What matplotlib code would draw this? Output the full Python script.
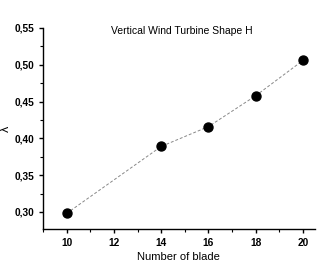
import matplotlib
matplotlib.use("Agg")
import matplotlib.pyplot as plt
from matplotlib.ticker import MultipleLocator, FuncFormatter

blades = [10, 14, 16, 18, 20]
lam = [0.298, 0.389, 0.416, 0.458, 0.506]
title = "Vertical Wind Turbine Shape H"
xlabel = "Number of blade"
ylabel = "λ"

plt.rcParams['font.family'] = ['Liberation Sans', 'DejaVu Sans']
fig = plt.figure(figsize=(3.28, 2.64), dpi=100)
ax = fig.add_axes([0.131, 0.133, 0.829, 0.761])
ax.plot(blades, lam, linestyle=(0, (3, 2)), color='#888888', linewidth=0.7, zorder=1)
ax.scatter(blades, lam, s=42, color='black', zorder=2)
ax.set_xlim(9.0, 20.5)
ax.set_ylim(0.277, 0.55)
ax.spines['top'].set_visible(False)
ax.spines['right'].set_visible(False)
for s in ['left', 'bottom']:
    ax.spines[s].set_linewidth(1.0)
ax.xaxis.set_major_locator(MultipleLocator(2))
ax.xaxis.set_minor_locator(MultipleLocator(1))
ax.yaxis.set_major_locator(MultipleLocator(0.05))
ax.yaxis.set_minor_locator(MultipleLocator(0.025))
ax.xaxis.set_major_formatter(FuncFormatter(lambda v, p: f"{v:.0f}"))
ax.yaxis.set_major_formatter(FuncFormatter(lambda v, p: f"{v:.2f}".replace('.', ',')))
ax.tick_params(which='major', direction='out', length=3, width=1, labelsize=7.3)
ax.tick_params(which='minor', direction='out', length=2, width=0.8)
for lbl in ax.get_xticklabels() + ax.get_yticklabels():
    lbl.set_fontweight('bold')
ax.set_xlabel(xlabel, fontsize=8, labelpad=3)
ax.set_ylabel(ylabel, fontsize=9, labelpad=2)
ax.set_title(title, fontsize=7.5, y=0.97, x=0.51, pad=0)
fig.savefig("out.png", dpi=100)
